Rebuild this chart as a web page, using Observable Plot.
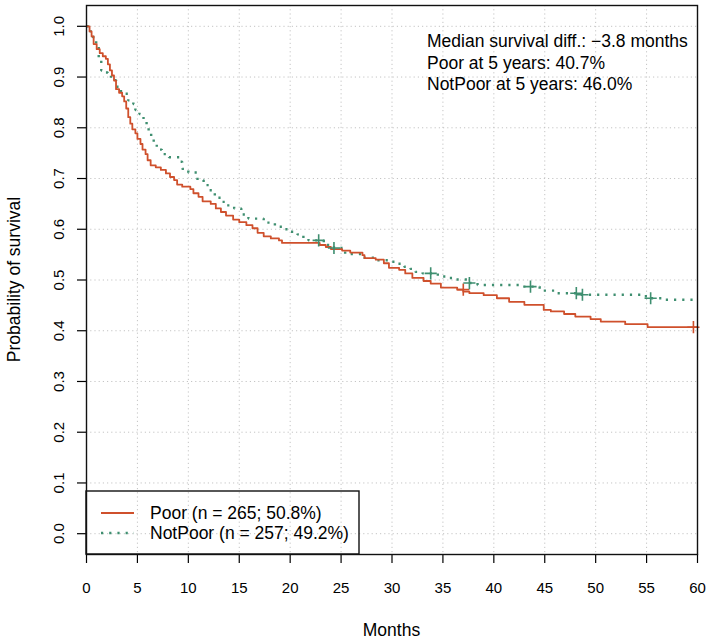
<!DOCTYPE html>
<html><head><meta charset="utf-8">
<script src="https://cdn.jsdelivr.net/npm/d3@7"></script>
<script src="https://cdn.jsdelivr.net/npm/@observablehq/plot@0.6"></script>
<style>
body{margin:0;background:#fff}
svg{font-family:"Liberation Sans",Arial,Helvetica,sans-serif}
</style>
</head><body><div id="chart"></div>
<script>
// ---- data ----
const groups = ["Poor (n = 265; 50.8%)", "NotPoor (n = 257; 49.2%)"];
const poorTime = [0,0.3,0.5,0.7,1.0,1.3,1.6,1.9,2.1,2.3,2.5,2.7,2.9,3.2,3.5,3.7,3.9,4.1,4.3,4.5,4.8,5.0,5.3,5.5,5.8,6.0,6.3,6.8,7.3,7.8,8.2,8.6,8.9,9.4,10.2,10.5,11.0,11.4,12.2,12.7,13.2,13.7,14.4,15.0,15.7,16.3,16.8,17.4,18.1,18.9,19.2,22.9,23.5,24.0,25.1,25.9,27.1,27.3,28.4,29.2,29.7,30.7,31.3,32.0,33.1,33.8,34.8,36.4,37.0,37.6,39.0,40.3,41.5,43.0,44.9,45.6,46.9,48.0,49.5,50.5,52.9,55.1,60];
const poorSurv = [1.0,0.99,0.98,0.965,0.955,0.947,0.941,0.936,0.925,0.913,0.903,0.893,0.876,0.869,0.862,0.852,0.838,0.821,0.808,0.797,0.789,0.778,0.768,0.757,0.748,0.736,0.726,0.722,0.717,0.710,0.703,0.697,0.688,0.684,0.679,0.671,0.664,0.655,0.650,0.641,0.634,0.627,0.619,0.614,0.608,0.602,0.593,0.586,0.582,0.578,0.573,0.569,0.565,0.561,0.558,0.554,0.549,0.543,0.540,0.533,0.524,0.520,0.513,0.504,0.498,0.493,0.485,0.481,0.477,0.474,0.470,0.464,0.457,0.451,0.441,0.438,0.433,0.428,0.423,0.418,0.413,0.407,0.407];
const notPoorTime = [0,0.3,0.6,0.95,1.2,1.45,1.8,2.1,2.4,2.9,3.2,3.7,4.1,4.6,4.8,5.2,5.6,5.9,6.1,6.35,6.6,6.9,7.4,8.1,9.2,9.4,10.0,10.9,11.5,12.0,12.6,13.3,13.8,14.5,15.2,15.9,17.4,18.5,19.4,20.0,20.7,21.3,21.8,23.3,24.3,25.4,27.2,28.5,29.9,30.5,31.2,31.8,32.3,33.0,34.5,35.4,36.1,37.4,38.4,42.6,44.5,46.2,48.3,54.5,55.4,56.7,60];
const notPoorSurv = [1.0,0.99,0.979,0.963,0.936,0.913,0.909,0.903,0.894,0.881,0.872,0.867,0.854,0.847,0.835,0.827,0.815,0.804,0.792,0.779,0.768,0.757,0.748,0.742,0.733,0.719,0.712,0.697,0.687,0.677,0.662,0.654,0.647,0.641,0.629,0.621,0.613,0.605,0.600,0.595,0.590,0.582,0.578,0.569,0.563,0.551,0.544,0.539,0.536,0.532,0.526,0.522,0.516,0.513,0.507,0.504,0.501,0.494,0.490,0.487,0.479,0.474,0.471,0.468,0.464,0.461,0.461];
const poorCensTime = [37.0, 59.6];
const poorCensSurv = [0.481, 0.407];
const notPoorCensTime = [22.8, 24.3, 33.8, 37.6, 43.6, 48.1, 48.7, 55.4];
const notPoorCensSurv = [0.578, 0.563, 0.513, 0.494, 0.487, 0.474, 0.471, 0.464];
const xTicks = [0,5,10,15,20,25,30,35,40,45,50,55,60];
const yTicks = [0,0.1,0.2,0.3,0.4,0.5,0.6,0.7,0.8,0.9,1.0];
const annotation = ["Median survival diff.: \u22123.8 months", "Poor at 5 years: 40.7%", "NotPoor at 5 years: 46.0%"];

// ---- styling ----
const RED = "#cf502c", GREEN = "#3f8f70";
const W = 711, H = 641, mL = 86, mR = 14, mT = 5, mB = 87;
const TXT = 17.5;

const poor = poorTime.map((t, i) => ({t, s: poorSurv[i]}));
const notPoor = notPoorTime.map((t, i) => ({t, s: notPoorSurv[i]}));
const poorCens = poorCensTime.map((t, i) => ({t, s: poorCensSurv[i]}));
const notPoorCens = notPoorCensTime.map((t, i) => ({t, s: notPoorCensSurv[i]}));

const gridStyle = {stroke: "#c4c4c4", strokeOpacity: 1, strokeWidth: 1, strokeDasharray: "1.2,3"};

const chart = Plot.plot({
  width: W, height: H,
  marginLeft: mL, marginRight: mR, marginTop: mT, marginBottom: mB,
  style: {fontSize: "15px", fontFamily: "'Liberation Sans', Arial, Helvetica, sans-serif", color: "#000", background: "#fff"},
  x: {domain: [0, 60]},
  y: {domain: [-0.041, 1.041]},
  marks: [
    Plot.gridX(xTicks, gridStyle),
    Plot.gridY(yTicks, gridStyle),
    Plot.line(notPoor, {x: "t", y: "s", curve: "step-after", stroke: GREEN, strokeWidth: 2.4, strokeDasharray: "2.2,6", strokeLinecap: "butt", strokeLinejoin: "miter"}),
    Plot.line(poor, {x: "t", y: "s", curve: "step-after", stroke: RED, strokeWidth: 1.8}),
    Plot.dot(poorCens, {x: "t", y: "s", symbol: "plus", r: 4, stroke: RED, strokeWidth: 1.6}),
    Plot.dot(notPoorCens, {x: "t", y: "s", symbol: "plus", r: 4, stroke: GREEN, strokeWidth: 1.6}),
    Plot.axisX(xTicks, {tickSize: 9, tickPadding: 19, label: null, stroke: "#000", strokeWidth: 1.2}),
    Plot.axisY(yTicks, {tickSize: 9, tickPadding: 14, tickRotate: -90, tickFormat: ".1f", label: null, stroke: "#000", strokeWidth: 1.2}),
    Plot.frame({stroke: "#111", strokeWidth: 1.4})
  ]
});

const svg = d3.select(chart);

// axis titles
svg.append("text").attr("x", (mL + W - mR) / 2).attr("y", 636)
  .attr("text-anchor", "middle").attr("font-size", TXT).attr("fill", "#000").text("Months");
svg.append("text").attr("transform", `translate(20,${(mT + H - mB) / 2}) rotate(-90)`)
  .attr("text-anchor", "middle").attr("font-size", TXT).attr("fill", "#000").text("Probability of survival");

// annotation (top-right)
annotation.forEach((line, i) => {
  svg.append("text").attr("x", 427).attr("y", 47 + i * 21.5).attr("text-anchor", "start")
    .attr("font-size", TXT).attr("fill", "#000").text(line);
});

// legend box (bottom-left)
const lg = svg.append("g");
lg.append("rect").attr("x", mL).attr("y", 491).attr("width", 359 - mL).attr("height", H - mB - 491)
  .attr("fill", "none").attr("stroke", "#111").attr("stroke-width", 1.4);
const rowsY = [513, 533];
const styles = [{stroke: RED, w: 1.8, dash: null}, {stroke: GREEN, w: 2.4, dash: "2.2,6"}];
groups.forEach((g, i) => {
  const l = lg.append("line").attr("x1", 101).attr("x2", 134).attr("y1", rowsY[i]).attr("y2", rowsY[i])
    .attr("stroke", styles[i].stroke).attr("stroke-width", styles[i].w);
  if (styles[i].dash) l.attr("stroke-dasharray", styles[i].dash);
  lg.append("text").attr("x", 150).attr("y", rowsY[i]).attr("dy", "0.35em").attr("text-anchor", "start")
    .attr("font-size", TXT).attr("fill", "#000").text(g);
});

document.getElementById("chart").appendChild(chart);
</script>
</body></html>
